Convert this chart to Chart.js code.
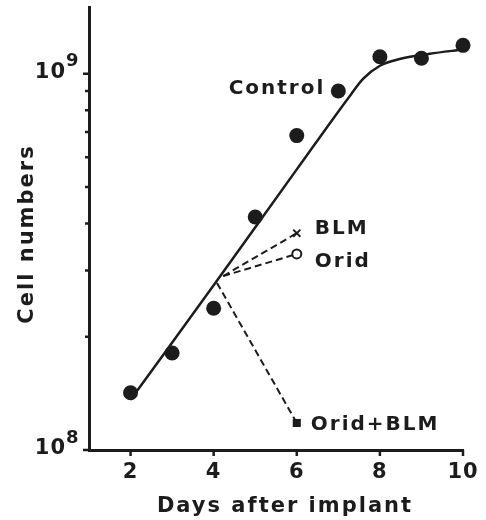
<!DOCTYPE html>
<html>
<head>
<meta charset="utf-8">
<script src="https://cdn.jsdelivr.net/npm/chart.js@4.4.0/dist/chart.umd.min.js"></script>
<style>
    html, body { margin: 0; padding: 0; background: #fff; }
</style>
</head>
<body>
<canvas id="chart" width="486" height="520"></canvas>
<script>
// Cell numbers after implant

// Control group (filled circles)
const controlDays = [2, 3, 4, 5, 6, 7, 8, 9, 10];
const controlCells = [1.42e8, 1.81e8, 2.38e8, 4.16e8, 6.85e8, 9.0e8, 1.11e9, 1.10e9, 1.19e9];

// hand drawn curve through the control points
const fitDays = [2, 4, 6, 7.3, 7.6, 8.0, 8.5, 9.2, 10];
const fitCells = [1.36e8, 2.74e8, 5.57e8, 8.8e8, 9.7e8, 1.05e9, 1.096e9, 1.13e9, 1.16e9];

// treated groups, branching off the control line at day 4
const blmDays = [4.23, 6];
const blmCells = [2.9e8, 3.77e8];
const oridDays = [4.23, 6];
const oridCells = [2.9e8, 3.32e8];
const comboDays = [4.08, 6];
const comboCells = [2.78e8, 1.18e8];

const seriesNames = ['Control', 'BLM', 'Orid', 'Orid+BLM'];

// axis ticks
const xTicks = [2, 4, 6, 8, 10];
const xTickLabels = ['2', '4', '6', '8', '10'];
const yMajorTicks = [1e8, 1e9];
const yMajorExp = ['8', '9'];
const yMinorTicks = [2e8, 3e8, 4e8, 5e8, 6e8, 7e8, 8e8, 9e8];

const INK = '#1c1c1c';
const FONT = "'DejaVu Sans', sans-serif";

function toPoints(xs, ys) {
    return xs.map((x, i) => ({ x: x, y: ys[i] }));
}

// Draws tick marks, tick labels, axis titles and series labels
const inkPlugin = {
    id: 'ink',
    afterDraw(chart) {
        const ctx = chart.ctx;
        const xs = chart.scales.x;
        const ys = chart.scales.y;
        const area = chart.chartArea;
        ctx.save();
        ctx.strokeStyle = INK;
        ctx.fillStyle = INK;
        ctx.lineWidth = 2.5;

        // tick marks
        ctx.beginPath();
        xTicks.forEach(v => {
            const px = xs.getPixelForValue(v);
            ctx.moveTo(px, area.bottom);
            ctx.lineTo(px, area.bottom + 6);
        });
        yMinorTicks.forEach(v => {
            const py = ys.getPixelForValue(v);
            ctx.moveTo(area.left, py);
            ctx.lineTo(area.left - 4, py);
        });
        yMajorTicks.forEach(v => {
            const py = ys.getPixelForValue(v);
            ctx.moveTo(area.left, py);
            ctx.lineTo(area.left - 6, py);
        });
        ctx.stroke();

        ctx.letterSpacing = '1px';
        // x tick labels
        ctx.font = 'bold 21px ' + FONT;
        ctx.textAlign = 'center';
        ctx.textBaseline = 'alphabetic';
        xTicks.forEach((v, i) => {
            ctx.fillText(xTickLabels[i], xs.getPixelForValue(v), area.bottom + 28);
        });

        // y tick labels: 10 with raised exponent
        yMajorTicks.forEach((v, i) => {
            const py = ys.getPixelForValue(v);
            ctx.font = 'bold 21px ' + FONT;
            ctx.textAlign = 'right';
            ctx.textBaseline = 'middle';
            ctx.fillText('10', area.left - 23, py - 1);
            ctx.font = 'bold 18px ' + FONT;
            ctx.textAlign = 'left';
            ctx.fillText(yMajorExp[i], area.left - 23, py - 12);
        });

        // axis titles
        ctx.letterSpacing = '2px';
        ctx.font = 'bold 21px ' + FONT;
        ctx.textAlign = 'center';
        ctx.textBaseline = 'alphabetic';
        ctx.fillText('Days after implant', 285, 512);
        ctx.save();
        ctx.translate(33, 234);
        ctx.rotate(-Math.PI / 2);
        ctx.fillText('Cell numbers', 0, 0);
        ctx.restore();

        // series labels next to their last marks
        ctx.font = 'bold 20px ' + FONT;
        ctx.textBaseline = 'middle';
        const at = (days, cells, k) => ({
            x: xs.getPixelForValue(days[k]),
            y: ys.getPixelForValue(cells[k])
        });
        let p = at(controlDays, controlCells, 5);
        ctx.textAlign = 'right';
        ctx.fillText(seriesNames[0], p.x - 13, p.y - 2);
        ctx.textAlign = 'left';
        p = at(blmDays, blmCells, 1);
        ctx.fillText(seriesNames[1], p.x + 18, p.y - 4);
        p = at(oridDays, oridCells, 1);
        ctx.fillText(seriesNames[2], p.x + 18, p.y + 8);
        p = at(comboDays, comboCells, 1);
        ctx.fillText(seriesNames[3], p.x + 14, p.y + 2);
        ctx.restore();
    }
};

new Chart(document.getElementById('chart'), {
    type: 'scatter',
    data: {
        datasets: [
            {
                label: 'Control fit',
                data: toPoints(fitDays, fitCells),
                showLine: true,
                cubicInterpolationMode: 'monotone',
                borderColor: INK,
                borderWidth: 2.5,
                pointRadius: 0,
                clip: false
            },
            {
                label: seriesNames[0],
                data: toPoints(controlDays, controlCells),
                pointStyle: 'circle',
                pointRadius: 7.5,
                backgroundColor: INK,
                borderColor: INK,
                borderWidth: 0,
                clip: false
            },
            {
                label: seriesNames[1],
                data: toPoints(blmDays, blmCells),
                showLine: true,
                borderDash: [7, 4],
                borderColor: INK,
                borderWidth: 2,
                pointStyle: 'crossRot',
                pointRadius: [0, 5],
                pointBorderWidth: 2,
                pointBorderColor: INK,
                clip: false
            },
            {
                label: seriesNames[2],
                data: toPoints(oridDays, oridCells),
                showLine: true,
                borderDash: [7, 4],
                borderColor: INK,
                borderWidth: 2,
                pointStyle: 'circle',
                pointRadius: [0, 4.5],
                pointBorderWidth: 2,
                pointBorderColor: INK,
                pointBackgroundColor: '#fff',
                clip: false
            },
            {
                label: seriesNames[3],
                data: toPoints(comboDays, comboCells),
                showLine: true,
                borderDash: [7, 4],
                borderColor: INK,
                borderWidth: 2,
                pointStyle: 'rect',
                pointRadius: [0, 5.7],
                pointBorderWidth: 0,
                pointBackgroundColor: INK,
                clip: false
            }
        ]
    },
    options: {
        responsive: false,
        animation: false,
        layout: { padding: { top: 6, right: 23, left: 0, bottom: 0 } },
        plugins: {
            legend: { display: false },
            tooltip: { enabled: false }
        },
        scales: {
            x: {
                type: 'linear',
                min: 1,
                max: 10,
                grid: { display: false, drawTicks: false },
                border: { color: INK, width: 3 },
                ticks: { display: false },
                afterFit(scale) { scale.height = 70; }
            },
            y: {
                type: 'logarithmic',
                min: 1e8,
                max: 1.5e9,
                grid: { display: false, drawTicks: false },
                border: { color: INK, width: 3 },
                ticks: { display: false },
                afterFit(scale) { scale.width = 89; }
            }
        }
    },
    plugins: [inkPlugin]
});
</script>
</body>
</html>
